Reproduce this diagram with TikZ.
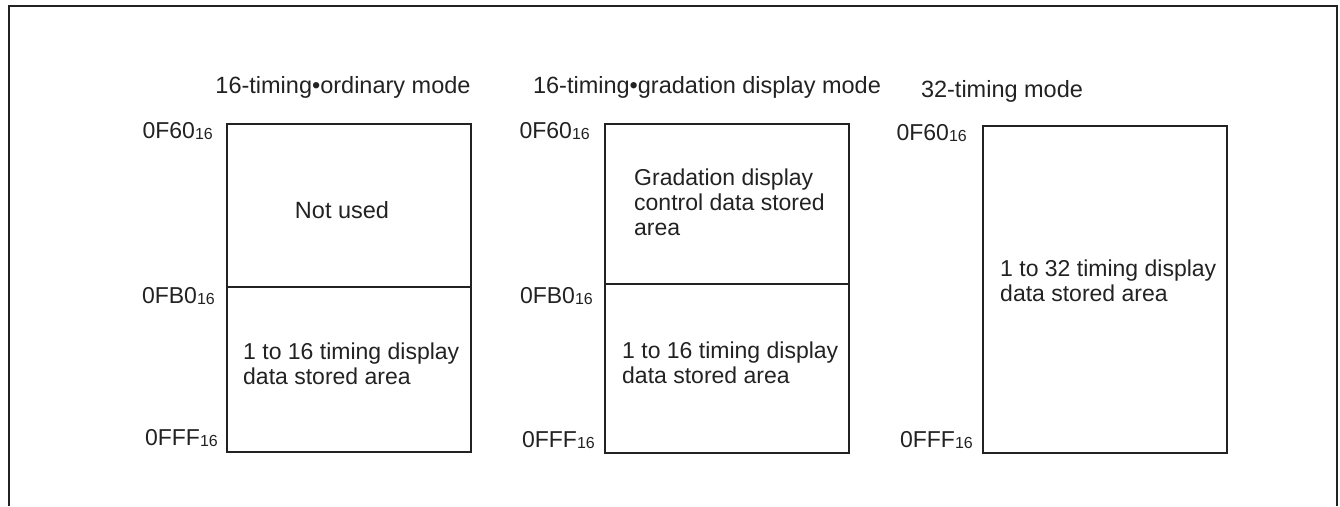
\documentclass[tikz,border=0pt]{standalone}
\usepackage{fontspec}
\setmainfont{Liberation Sans}
\definecolor{ink}{HTML}{222222}
\newcommand\hx[1]{#1{\fontsize{16}{16}\selectfont\raisebox{-1pt}{16}}}
\tikzset{
  frameline/.style={draw=ink,line width=2pt},
  memblock/.style={draw=ink,line width=1.6pt},
  title/.style={anchor=base,inner sep=0pt,text=ink,font=\fontsize{23.5}{25.5}\selectfont},
  addr/.style={anchor=base east,inner sep=0pt,text=ink,font=\fontsize{23}{24}\selectfont},
  areatext/.style={anchor=north west,inner sep=0pt,align=left,text=ink,font=\fontsize{23}{25}\selectfont},
}
\begin{document}
\begin{tikzpicture}[x=1pt,y=-1pt]
\useasboundingbox (0,0) rectangle (1340,506);
% outer frame (open at bottom)
\draw[frameline] (9,506) -- (9,6) -- (1337,6) -- (1337,506);

% titles
\node[title] (t1) at (343,93) {16-timing•ordinary mode};
\node[title] (t2) at (707,93) {16-timing•gradation display mode};
\node[title] (t3) at (1002,97) {32-timing mode};

% block 1
\draw[memblock] (227,124) rectangle (471,452);
\draw[memblock] (227,287) -- (471,287);
\node[addr] (a1) at (213,138) {\hx{0F60}};
\node[addr] (b1) at (215,303) {\hx{0FB0}};
\node[addr] (c1) at (218,445) {\hx{0FFF}};
\node[title] (n1) at (342,218) {Not used};
\node[areatext] (d1) at (243,343) {1 to 16 timing display\\data stored area};

% block 2
\draw[memblock] (605,124) rectangle (849,453);
\draw[memblock] (605,284) -- (849,284);
\node[addr] (a2) at (590,138) {\hx{0F60}};
\node[addr] (b2) at (593,303) {\hx{0FB0}};
\node[addr] (c2) at (595,447) {\hx{0FFF}};
\node[areatext] (g2) at (634,169) {Gradation display\\control data stored\\area};
\node[areatext] (d2) at (622,342) {1 to 16 timing display\\data stored area};

% block 3
\draw[memblock] (983,126) rectangle (1227,453);
\node[addr] (a3) at (967,140) {\hx{0F60}};
\node[addr] (c3) at (973,447) {\hx{0FFF}};
\node[areatext] (d3) at (1000,260) {1 to 32 timing display\\data stored area};
\end{tikzpicture}
\end{document}
